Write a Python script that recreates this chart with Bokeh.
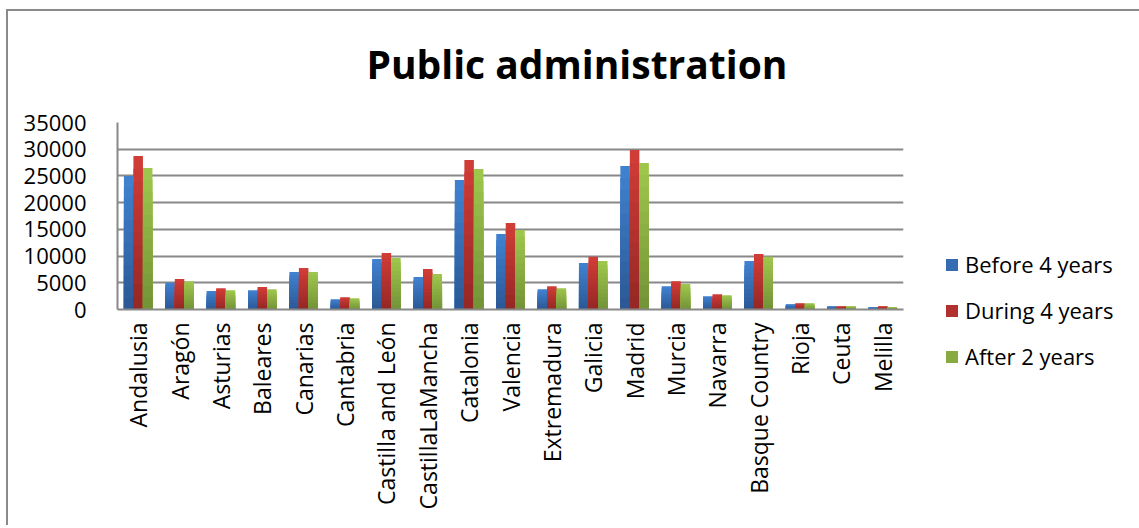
import math
from bokeh.plotting import figure
from bokeh.models import (ColumnDataSource, FactorRange, Legend, LegendItem,
                          SingleIntervalTicker, CategoricalAxis)
from bokeh.transform import dodge
from bokeh.embed import file_html
from bokeh.resources import INLINE

regions = ["Andalusia", "Aragón", "Asturias", "Baleares", "Canarias", "Cantabria",
           "Castilla and León", "CastillaLaMancha", "Catalonia", "Valencia",
           "Extremadura", "Galicia", "Madrid", "Murcia", "Navarra",
           "Basque Country", "Rioja", "Ceuta", "Melilla"]
before_4_years = [25000, 5000, 3440, 3625, 7000, 1940, 9440, 6060, 24250, 14125,
                  3810, 8690, 26875, 4375, 2500, 9060, 1000, 625, 440]
during_4_years = [28750, 5690, 4000, 4190, 7750, 2310, 10560, 7560, 28000, 16190,
                  4375, 9875, 29875, 5310, 2875, 10375, 1190, 625, 625]
after_2_years = [26500, 5310, 3625, 3810, 7000, 2125, 9625, 6625, 26310, 14875,
                 4000, 9060, 27440, 4750, 2690, 9875, 1190, 625, 440]
series_names = ["Before 4 years", "During 4 years", "After 2 years"]

# gradient colours (top -> bottom)
grad = [((64, 129, 207), (44, 89, 150)),
        ((208, 60, 54), (150, 40, 38)),
        ((158, 198, 76), (116, 148, 56))]

N = 12
BW = 0.23
offsets = [-BW, 0.0, BW]

p = figure(x_range=FactorRange(*regions, range_padding=0), y_range=(0, 35000),
           frame_width=786, frame_height=187,
           min_border_left=109, min_border_right=234, min_border_top=111,
           min_border_bottom=216,
           output_backend="svg", toolbar_location=None,
           background_fill_color="white", border_fill_color="white")
p.styles = {"margin-top": "9px", "margin-left": "6px",
            "border-top": "2px solid #8a8a8a", "border-left": "2px solid #8a8a8a"}

p.outline_line_color = None
p.xgrid.grid_line_color = None
p.ygrid.grid_line_color = "#888888"
p.ygrid.grid_line_width = 2
p.ygrid.ticker = SingleIntervalTicker(interval=5000)
p.yaxis.ticker = SingleIntervalTicker(interval=5000)

for ax in (p.xaxis, p.yaxis):
    ax.axis_line_color = "#888888"
    ax.axis_line_width = 2
    ax.major_tick_line_color = None
    ax.minor_tick_line_color = None
    ax.major_tick_out = 0
    ax.major_tick_in = 0
    ax.major_label_text_font = "Open Sans"
    ax.major_label_text_color = "black"

p.yaxis.major_label_text_font_size = "22px"
p.yaxis.major_label_standoff = 27
p.xaxis.major_label_text_font_size = "23px"
p.xaxis.major_label_orientation = math.pi / 2
p.xaxis.major_label_standoff = 13

p.title.text = "Public administration"
p.title.text_font = "Open Sans"
p.title.text_font_style = "bold"
p.title.text_font_size = "39px"
p.title.text_color = "black"
p.title.align = "left"
p.title.offset = 249
p.title.standoff = 10

# invisible spacer between the title and the plot area
p.extra_x_ranges = {"spacer": FactorRange(" ")}
spacer = CategoricalAxis(x_range_name="spacer", axis_line_color=None,
                         major_tick_line_color=None, minor_tick_line_color=None,
                         major_tick_in=0, major_tick_out=28,
                         major_label_standoff=0, major_label_text_font_size="0px")
p.add_layout(spacer, "above")

legend_items = []
for s, vals in enumerate([before_4_years, during_4_years, after_2_years]):
    data = {"region": regions, "v": vals}
    for j in range(N):
        data[f"t{j}"] = [v * (N - j) / N for v in vals]
    src = ColumnDataSource(data)
    (r0, g0, b0), (r1, g1, b1) = grad[s]
    rends = []
    for j in range(N):
        f = j / (N - 1)
        col = "#%02x%02x%02x" % (round(r0 + (r1 - r0) * f), round(g0 + (g1 - g0) * f),
                                 round(b0 + (b1 - b0) * f))
        r = p.vbar(x=dodge("region", offsets[s], range=p.x_range), top=f"t{j}",
                   bottom=0, width=BW, source=src, fill_color=col, line_color=None)
        rends.append(r)
    legend_items.append(LegendItem(label=series_names[s], renderers=[rends[N // 2]]))

legend = Legend(items=legend_items, location=(41, -62), orientation="vertical",
                label_text_font="Open Sans", label_text_font_size="22px",
                label_text_color="black",
                glyph_width=15, glyph_height=15, label_standoff=6, spacing=16,
                padding=0, margin=0, border_line_color=None,
                background_fill_alpha=0)
p.add_layout(legend, "right")

open("out.html", "w").write(file_html(p, INLINE))
